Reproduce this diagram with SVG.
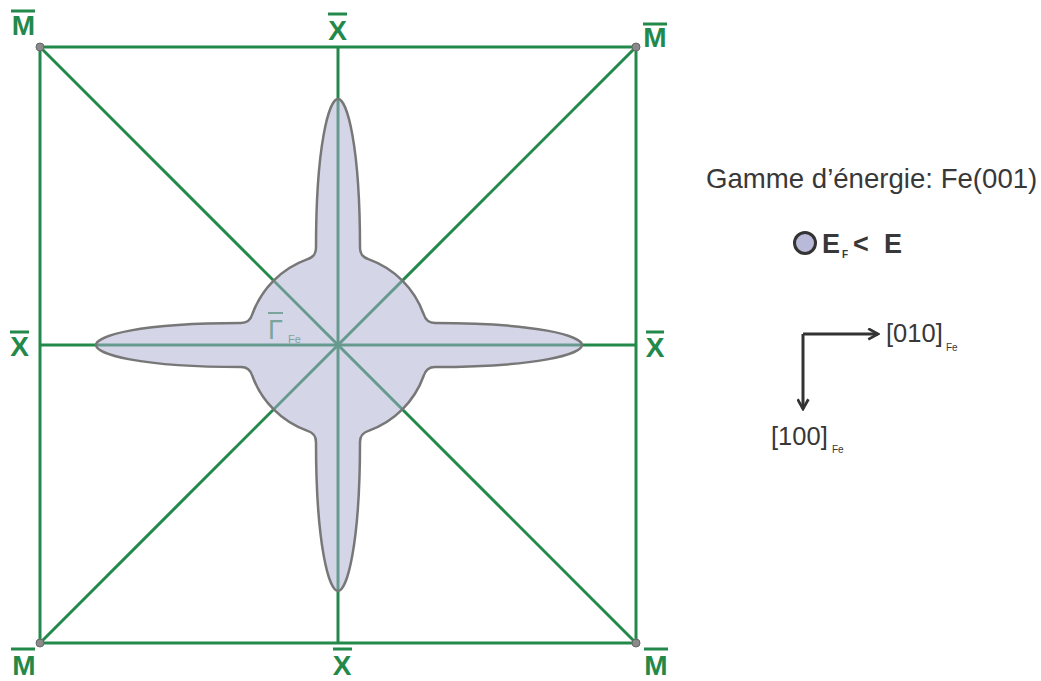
<svg xmlns="http://www.w3.org/2000/svg" width="1041" height="681" viewBox="0 0 1041 681">
<style>
.ln{stroke:#22894a;stroke-width:3;fill:none}
.lbl{font-family:"Liberation Sans",Arial,sans-serif;font-weight:bold;font-size:28px;fill:#22894a;text-anchor:middle}
.bar{stroke:#22894a;stroke-width:3}
.txt{font-family:"Liberation Sans",Arial,sans-serif;fill:#383838}
.ax{stroke:#333;stroke-width:3;fill:none}
</style>
<defs>
<marker id="arr" viewBox="0 0 12 12" refX="10" refY="6" markerWidth="13" markerHeight="13" markerUnits="userSpaceOnUse" orient="auto">
<path d="M1,1 L10,6 L1,11" fill="none" stroke="#333" stroke-width="2.5"/>
</marker>
</defs>
<rect width="1041" height="681" fill="#fff"/>
<g id="connectors">
<rect class="ln" x="40" y="47" width="596" height="596"/>
<line class="ln" x1="40" y1="47" x2="636" y2="643"/>
<line class="ln" x1="636" y1="47" x2="40" y2="643"/>
<line class="ln" x1="338" y1="47" x2="338" y2="643"/>
<line class="ln" x1="40" y1="345" x2="636" y2="345"/>
</g>
<g id="fermi-surface">
<path d="M307,259.4 Q316,256.7 316,248 C316,145 329,99 338,99 C347,99 360,145 360,248 Q360,256.7 369,259.4 A91,91 0 0 1 423.6,314 Q426.3,323 435,323 C538,323 582,336 582,345 C582,354 538,367 435,367 Q426.3,367 423.6,376 A91,91 0 0 1 369,430.6 Q360,433.3 360,442 C360,545 347,591 338,591 C329,591 316,545 316,442 Q316,433.3 307,430.6 A91,91 0 0 1 252.4,376 Q249.7,367 241,367 C138,367 96,354 96,345 C96,336 138,323 241,323 Q249.7,323 252.4,314 A91,91 0 0 1 307,259.4 Z" fill="#ababd1" fill-opacity="0.5" stroke="#777" stroke-width="2.5"/>
</g>
<g id="corners" fill="#8a8a8a" stroke="#666" stroke-width="1">
<circle cx="40" cy="47" r="4"/>
<circle cx="636" cy="47" r="4"/>
<circle cx="40" cy="643" r="4"/>
<circle cx="636" cy="643" r="4"/>
</g>
<g id="label-M-tl"><line class="bar" x1="11" y1="11" x2="35" y2="11"/><text class="lbl" x="23.5" y="35">M</text></g>
<g id="label-M-tr"><line class="bar" x1="643" y1="24" x2="667" y2="24"/><text class="lbl" x="655" y="47">M</text></g>
<g id="label-M-bl"><line class="bar" x1="11" y1="649" x2="35" y2="649"/><text class="lbl" x="24" y="675">M</text></g>
<g id="label-M-br"><line class="bar" x1="644" y1="649" x2="668" y2="649"/><text class="lbl" x="656" y="675">M</text></g>
<g id="label-X-top"><line class="bar" x1="328" y1="14" x2="347" y2="14"/><text class="lbl" x="337.5" y="40">X</text></g>
<g id="label-X-left"><line class="bar" x1="10" y1="332" x2="29" y2="332"/><text class="lbl" x="19.5" y="356">X</text></g>
<g id="label-X-right"><line class="bar" x1="646" y1="332" x2="664" y2="332"/><text class="lbl" x="655" y="357">X</text></g>
<g id="label-X-bottom"><line class="bar" x1="333" y1="649" x2="352" y2="649"/><text class="lbl" x="342" y="675">X</text></g>
<g id="label-gamma">
<line x1="268" y1="313" x2="283" y2="313" stroke="#7aa59d" stroke-width="2"/>
<text x="268" y="339" font-family="'Liberation Sans',Arial,sans-serif" font-size="27" fill="#7aa59d">Γ</text>
<text x="288" y="343" font-family="'Liberation Sans',Arial,sans-serif" font-size="11" fill="#7aa59d">Fe</text>
</g>
<g id="legend-title"><text class="txt" x="706" y="188" font-size="27.6">Gamme d’énergie: Fe(001)</text></g>
<g id="legend-item">
<circle cx="805" cy="243" r="10.5" fill="#b9b9d9" stroke="#333" stroke-width="3"/>
<text class="txt" x="822" y="253" font-size="27" font-weight="bold" fill="#333">E</text>
<text class="txt" x="842" y="258" font-size="10" font-weight="bold" fill="#333">F</text>
<text class="txt" x="853" y="253" font-size="27" font-weight="bold" fill="#333" textLength="49" lengthAdjust="spacing">&lt; E</text>
</g>
<g id="axes">
<path class="ax" d="M803,334 H878" marker-end="url(#arr)"/>
<path class="ax" d="M803,334 V409" marker-end="url(#arr)"/>
<text class="txt" x="886" y="342" font-size="25.5">[010]</text>
<text class="txt" x="946" y="351" font-size="10">Fe</text>
<text class="txt" x="771" y="445" font-size="25.5">[100]</text>
<text class="txt" x="832" y="453" font-size="10">Fe</text>
</g>
</svg>
